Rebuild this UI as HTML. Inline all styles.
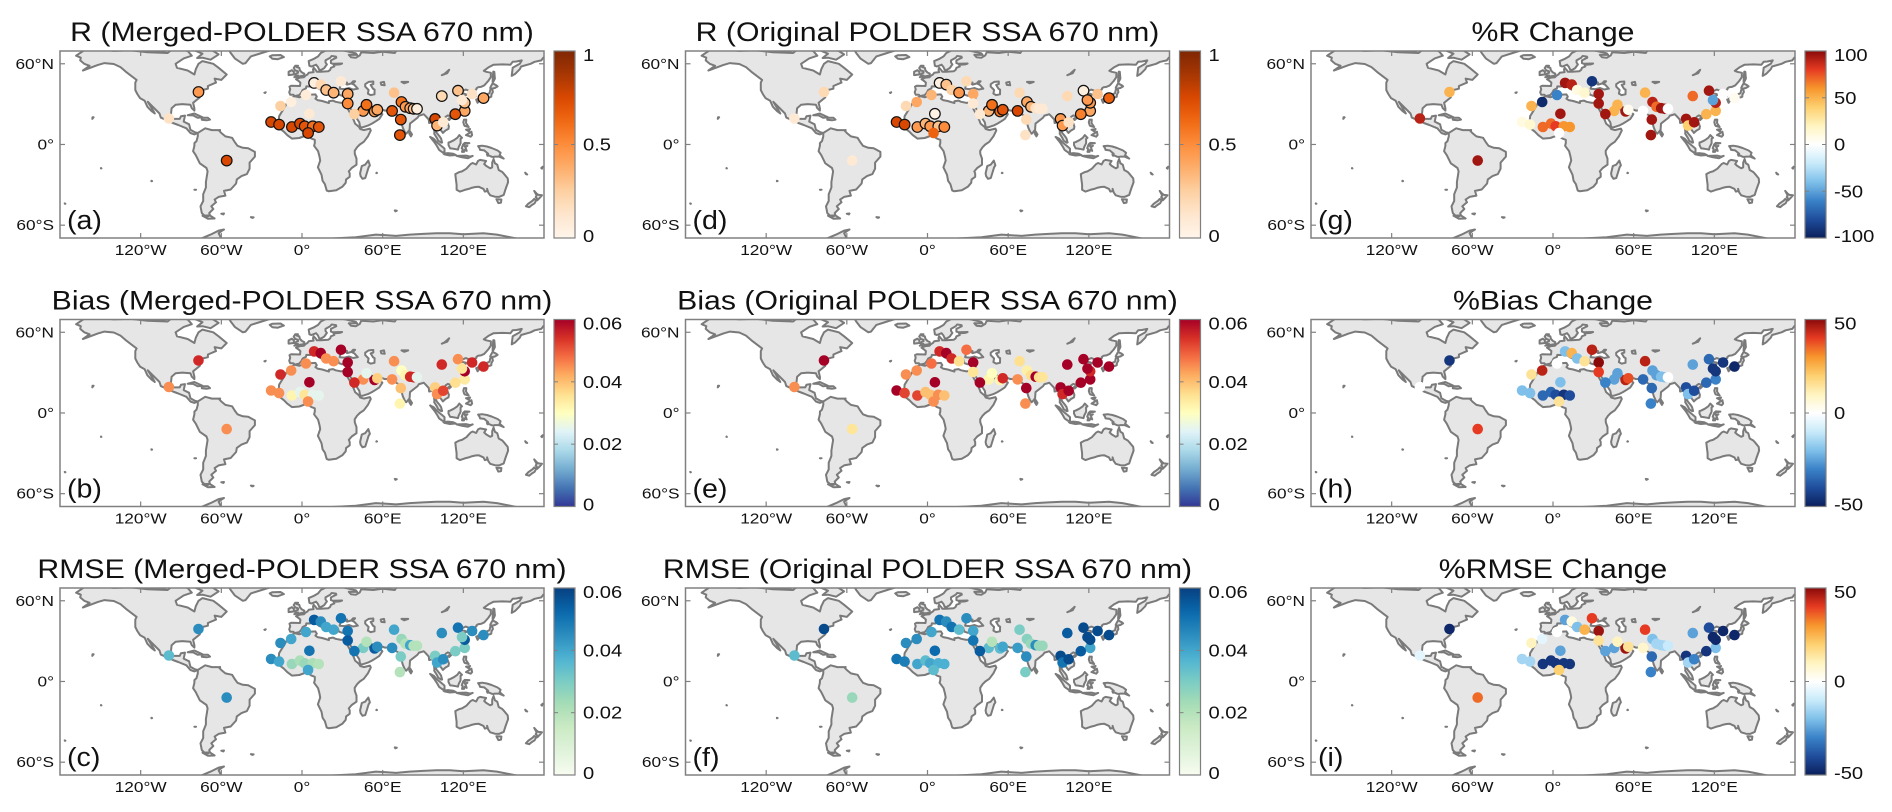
<!DOCTYPE html>
<html><head><meta charset="utf-8"><style>
html,body{margin:0;padding:0;background:#fff;}
svg{display:block;font-family:"Liberation Sans",Arial,sans-serif;}
</style></head><body>
<svg id="fig" width="1892" height="812" viewBox="0 0 1892 812" xmlns="http://www.w3.org/2000/svg">
<rect width="1892" height="812" fill="#fff"/>
<defs id="defs"></defs>
</svg>
<script>
// ---------- data ----------
const stationLon=[-77,-99,-56, 9,14,29,18,23.5,34,34, 3,-8,-16,5.5, -23,-17,-7.5,-1.5,2,8,12.5,4.5, 45.5,48,54,56,39, 67,68.5,74,77,80.5,83,73.5,72.8,85.5, 99,100.5,105,104,116,126.5,121,121,114,135,119];
const stationLat=[39,19.3,-12, 45.8,44.5,47,40.5,38.5,37.5,30.5, 36.8,31.6,28.6,22.8, 16.7,14.8,13,15.5,13.5,13.5,13,8.5, 25,29.5,24.5,25.8,22.6, 25,38.5,31.6,28,27,26.5,18.5,7,26.5, 19,14,16.5,36,40,37.5,25,31,22.5,34.5,33];
const valsA=[0.45,0.15,0.75, 0.05,0.2,0.1,0.3,0.35,0.4,0.5, 0.08,0.05,0.25,0.1, 0.75,0.75,0.75,0.75,0.7,0.6,0.7,0.75, 0.45,0.6,0.45,0.4,0.25, 0.7,0.3,0.6,0.45,0.4,0.3,0.7,0.7,0.05, 0.75,0.35,0.1,0.2,0.3,0.15,0.4,0.3,0.7,0.4,0.1];
const sigA=[1,0,1, 1,0,0,1,1,1,1, 0,0,0,0, 1,1,1,1,1,1,1,1, 1,1,1,1,0, 1,0,1,1,1,1,1,1,1, 1,1,0,1,1,0,1,1,1,1,0];
const valsD=[0.2,0.1,0.1, 0.05,0.3,0.2,0.25,0.45,0.4,0.1, 0.35,0.4,0.2,0.02, 0.75,0.75,0.45,0.35,0.45,0.3,0.5,0.65, 0.35,0.6,0.6,0.7,0.1, 0.75,0.2,0.4,0.35,0.15,0.1,0.2,0.15,0.1, 0.45,0.45,0.15,0.2,0.05,0.3,0.4,0.45,0.55,0.65,0.45];
const sigD=[0,0,0, 1,1,0,0,1,0,0, 0,0,0,1, 1,1,1,1,1,1,1,0, 1,1,1,1,0, 1,0,1,1,0,0,0,0,0, 1,1,0,0,1,0,1,1,1,1,1];
const valsG=[50,90,95, 95,90,-90,10,15,95,95, -60,-95,50,95, 10,15,70,70,80,60,60,0, 50,50,95,5,95, 0,50,90,70,95,95,95,95,0, 95,40,95,70,95,0,50,90,50,5,-50];
const valsB=[0.055,0.045,0.045, 0.055,0.06,0.06,0.045,0.045,0.06,0.06, 0.045,0.045,0.055,0.06, 0.045,0.045,0.032,0.025,0.035,0.025,0.025,0.045, 0.045,0.025,0.06,0.038,0.055, 0.045,0.045,0.03,0.032,0.055,0.055,0.04,0.032,0.025, 0.038,0.045,0.052,0.055,0.045,0.055,0.034,0.06,0.036,0.055,0.035];
const valsE=[0.06,0.045,0.035, 0.055,0.06,0.048,0.055,0.036,0.06,0.035, 0.048,0.045,0.045,0.06, 0.06,0.052,0.052,0.04,0.04,0.045,0.04,0.045, 0.032,0.03,0.032,0.055,0.06, 0.045,0.036,0.033,0.036,0.06,0.036,0.06,0.045,0.035, 0.06,0.055,0.06,0.06,0.06,0.06,0.06,0.055,0.06,0.06,0.06];
const valsH=[-45,0,40, -20,25,45,-20,15,50,40, 0,45,15,-20, -20,-20,-35,-35,-40,-45,-40,15, -25,-25,45,38,-30, -35,45,-25,-25,-20,-20,-35,-30,0, -40,-20,-40,-25,-35,-45,-30,-45,-35,-48,-45];
const valsC=[0.045,0.035,0.045, 0.055,0.045,0.05,0.04,0.04,0.05,0.055, 0.04,0.04,0.045,0.05, 0.045,0.04,0.025,0.022,0.025,0.022,0.02,0.04, 0.03,0.02,0.055,0.045,0.05, 0.045,0.04,0.025,0.02,0.04,0.02,0.03,0.02,0.02, 0.03,0.04,0.045,0.045,0.05,0.045,0.03,0.055,0.03,0.045,0.03];
const valsF=[0.058,0.035,0.025, 0.05,0.045,0.045,0.05,0.035,0.04,0.05, 0.04,0.045,0.045,0.052, 0.05,0.048,0.04,0.035,0.04,0.038,0.038,0.035, 0.035,0.02,0.035,0.04,0.055, 0.042,0.03,0.028,0.025,0.045,0.025,0.045,0.03,0.025, 0.058,0.05,0.058,0.055,0.058,0.058,0.04,0.058,0.055,0.058,0.058];
const valsI=[-48,-5,35, -25,5,40,-20,25,48,15, 0,-5,10,-25, -15,-15,-45,-45,-45,-45,-45,20, -25,10,48,15,-25, 8,40,-20,-15,-15,-15,-35,-30,-10, -45,-15,-30,-25,-40,-48,-20,-48,-45,-48,-48];
const panelTitles=["R (Merged-POLDER SSA 670 nm)","Bias (Merged-POLDER SSA 670 nm)","RMSE (Merged-POLDER SSA 670 nm)","R (Original POLDER SSA 670 nm)","Bias (Original POLDER SSA 670 nm)","RMSE (Original POLDER SSA 670 nm)","%R Change","%Bias Change","%RMSE Change"];
const lonTicks=[-120,-60,0,60,120];
const lonTickLabels=["120°W","60°W","0°","60°E","120°E"];
const latTicks=[60,0,-60];
const latTickLabels=["60°N","0°","60°S"];
const ticksR=[0,0.5,1], ticksBias=[0,0.02,0.04,0.06], ticksPctR=[-100,-50,0,50,100], ticksPct=[-50,0,50];

// ---------- colormaps ----------
const cmOr=["#fff5eb","#fee6ce","#fdd0a2","#fdae6b","#fd8d3c","#f16913","#d94801","#a63603","#7f2704"];
const cmRdYlBu=["#313695","#4575b4","#74add1","#abd9e9","#e0f3f8","#ffffbf","#fee090","#fdae61","#f46d43","#d73027","#a50026"];
const cmGnBu=["#f7fcf0","#e0f3db","#ccebc5","#a8ddb5","#7bccc4","#4eb3d3","#2b8cbe","#0868ac","#084081"];
const cmDiv=["#0b1f5c","#1f4d9c","#3a82c8","#7fc0ea","#c8eafa","#ffffff","#fff4c0","#fdd070","#f7962c","#e63b22","#8a0a0a"];
function hex(h){return [parseInt(h.substr(1,2),16),parseInt(h.substr(3,2),16),parseInt(h.substr(5,2),16)];}
function cmap(stops,t){t=Math.max(0,Math.min(1,t));const n=stops.length-1;const k=Math.min(n-1,Math.floor(t*n));const f=t*n-k;const a=hex(stops[k]),b=hex(stops[k+1]);return "rgb("+a.map((v,i)=>Math.round(v+(b[i]-v)*f)).join(",")+")";}

const panelVals=[valsA,valsB,valsC,valsD,valsE,valsF,valsG,valsH,valsI];
const panelSig=[sigA,null,null,sigD,null,null,null,null,null];
const panelCm=[cmOr,cmRdYlBu,cmGnBu,cmOr,cmRdYlBu,cmGnBu,cmDiv,cmDiv,cmDiv];
const panelRange=[[0,1],[0,0.06],[0,0.06],[0,1],[0,0.06],[0,0.06],[-100,100],[-50,50],[-50,50]];
const panelTicks=[ticksR,ticksBias,ticksBias,ticksR,ticksBias,ticksBias,ticksPctR,ticksPct,ticksPct];

// ---------- geometry ----------
const MW=484, MH=187, LAT0=69.5, SX=MW/360, SY=1.345;
function lx(lon){return (lon+180)*SX;}
function ly(lat){return (LAT0-lat)*SY;}
const land=[
[[-168,66],[-162,70],[-156,71.3],[-140,69.6],[-128,70],[-115,68.5],[-100,68],[-95,72],[-85,69.5],[-82,66],[-88,64],[-94,60],[-93,57],[-85,55],[-80,52],[-79,56],[-77,60],[-74,62],[-66,60],[-62,57],[-56,52],[-60,48],[-65,49],[-64,46],[-70,43.5],[-70,41.5],[-74,40.5],[-76,37],[-76,35],[-81,31],[-80,27],[-80,25.2],[-82,27],[-83,29.5],[-89,30],[-94,29.5],[-97,27],[-97.5,22],[-96,19],[-91,19],[-90,21],[-87,21.5],[-88,17],[-84,15],[-83,11],[-79.5,9],[-77.5,8.5],[-80,7.5],[-83,8.5],[-86,12],[-92,14.5],[-96,16],[-105,20],[-106,23],[-109,26],[-112.5,29.5],[-114.7,31.7],[-113,29],[-110,24],[-109.5,23],[-112,25],[-115,28],[-117,32.5],[-120.5,34.5],[-122.5,37.5],[-124,40.5],[-124,46],[-123,48],[-127,51],[-131,54],[-135,57.5],[-140,59.8],[-147,60.5],[-152,59],[-156,57.5],[-163,55],[-158,58.5],[-162,60],[-165,62.5],[-164.5,64.5],[-168,66]],
[[-62,67],[-68,63],[-74,64.5],[-78,64.3],[-74,67.5],[-80,70],[-90,71],[-80,74],[-70,72],[-62,67]],
[[-120,71],[-105,68.5],[-100,70],[-110,74],[-120,71]],
[[-73,78],[-60,76],[-56,73],[-53,68],[-50,64],[-44,60],[-42,60.5],[-38,65.5],[-30,68],[-22,70.5],[-20,76],[-30,83],[-60,82],[-73,78]],
[[-24,65.5],[-22,66.4],[-16,66.5],[-13.5,65],[-18,63.4],[-22,63.8],[-24,65.5]],
[[-85,21.8],[-80,23],[-74,20.2],[-77.5,19.8],[-81,21.6],[-85,21.8]],
[[-74.5,19.8],[-70,19.8],[-68.4,18.5],[-71,18],[-74.5,18.4]],
[[-77.5,8.5],[-76,9.5],[-72,12],[-67,10.7],[-62,10.7],[-60,8.5],[-57,6],[-52,5],[-50,1.8],[-48,-1],[-44,-2.5],[-40,-2.8],[-35,-5.5],[-35,-9],[-39,-13.5],[-39,-18],[-41,-22],[-45,-23.5],[-48.5,-26],[-49,-29],[-53,-33.5],[-58,-34.5],[-57,-38],[-62,-39],[-65,-41],[-64,-43],[-67.5,-46],[-66,-48],[-69,-51],[-68.5,-52.5],[-70,-53.5],[-72,-53.5],[-74.5,-51],[-75.5,-46],[-73.5,-42],[-73.5,-37],[-71.5,-32],[-71.5,-28],[-70.2,-20],[-71,-17.5],[-76,-14],[-79,-8],[-81,-5],[-80,-1],[-80,1],[-78.5,2.5],[-77.5,6],[-77.5,8.5]],
[[-68.5,-52.7],[-65,-55],[-70,-55.2],[-74,-53],[-68.5,-52.7]],
[[-5.5,36],[-10,33],[-13,27.5],[-17,21],[-17.5,14.7],[-16.7,12],[-13.5,9.5],[-11,7],[-7.5,4.4],[-2,4.8],[2,6.3],[5,5.8],[7,4.4],[9.5,3.5],[9.5,1],[9,-1],[12,-5],[13,-9],[13.5,-12],[11.8,-17],[14.5,-22.5],[15.3,-27],[17,-29.5],[18.4,-34.2],[20,-34.8],[25.5,-34],[30,-31.5],[32.5,-28.5],[32.8,-26],[35.5,-24],[35.5,-21.5],[34.8,-20],[37,-17.5],[40.5,-15],[40.5,-10.5],[39.3,-7],[39.2,-4.7],[41,-2],[43,0],[46,2],[49,6],[51.2,10.5],[50.5,11.8],[46,10.7],[43.3,11.5],[42.5,13],[39.5,15.5],[38.5,18],[37.2,21],[35.5,24],[33.7,27.2],[32.5,29.9],[34.3,27.8],[35,28.5],[36.5,26],[39,22],[41,19],[42.6,16.5],[43.3,12.7],[45,12.8],[49,14],[52,15.5],[55,17.3],[57.5,19],[59.8,22.5],[58.5,23.7],[56.3,26.2],[54,24.1],[51.5,24.4],[51.6,26],[50.8,25],[50,26.5],[48.6,28],[48,29.9],[50,30.1],[51.5,27.9],[54.5,26.6],[57,27],[61.6,25.2],[66.6,25.4],[67.5,24],[68.5,23],[70,22.5],[72.5,21],[73,19],[74,16],[75,12.5],[76.3,9.5],[77.5,8],[78.5,9],[80,11],[80.3,15.5],[82.3,17],[86,20],[87,21.5],[89,22],[90.5,22.5],[92,21],[94.3,18.5],[94.5,16],[97.5,16.5],[98,13],[98.5,9],[98.3,8],[100.3,5],[101.3,2.8],[103.5,1.3],[104.2,1.5],[103.4,4.5],[102.2,6.2],[100.3,8.5],[99.3,10.5],[100,13.5],[100.9,13.5],[103,11],[104.8,8.6],[106.7,10.4],[109,11.6],[109.3,13.5],[108.5,15.5],[106.5,17.5],[105.8,19],[106.8,20.5],[108.5,21.6],[110,21],[111.5,21.5],[114,22.3],[116.5,23],[119.5,26],[121,28],[122,30],[121,32],[120.5,34],[119.2,35],[122.5,37],[121,37.7],[118,38.2],[117.7,39],[119.5,39.8],[121.8,40.8],[124.3,39.9],[125.5,37.7],[126.6,35],[128.5,35.1],[129.5,36],[129.4,37.5],[128.4,38.6],[127.5,39.8],[129.7,40.9],[129.7,41.7],[131,42.6],[133,42.8],[135.5,43.9],[138.5,47.2],[140.4,50],[140.5,53.3],[137,54],[135.2,54.8],[139,57.5],[142.5,59.3],[149,59.5],[155,59.3],[156.7,61.5],[159.5,61.7],[163.5,62.5],[162,60],[156.7,57],[156,51],[158.5,52.5],[162,56],[163,58],[170,60],[173,61.5],[178,62.5],[179.5,64.5],[181,65.5],[181,72],[160,71],[150,72],[140,72.5],[130,71],[113,74],[105,77],[90,75.5],[80,73.5],[72,72.5],[69,68],[60,69],[53,68],[44,68.5],[43,66.2],[40,64.5],[36.5,64.8],[34.8,66.7],[41,66.6],[40,67.8],[33,69.4],[25,71],[18,70],[14,68],[12,65.5],[8.5,63.5],[5,62],[5.5,58.5],[7,58],[10.5,59.3],[11.8,57.7],[12.8,55.5],[14.2,55.4],[16.5,56.8],[18.5,59.5],[17.5,61],[17.5,62.5],[21,64.5],[22,65.8],[25.3,65.3],[25.5,64.5],[21.5,62.5],[21.5,60.5],[23,60],[29.8,60.2],[28,59.5],[23.5,59.2],[24,58],[21.5,57],[21,55.5],[19.5,54.4],[14,54],[11,54],[10.5,55],[8.6,57.1],[8.2,55.5],[8.6,53.8],[5,53.3],[4,52],[2.5,51.1],[1.5,50],[-1.5,49.7],[-4.5,48.5],[-2.5,47.2],[-1.2,46],[-1.5,43.5],[-8,43.7],[-9.3,43],[-8.8,41],[-9.5,38.8],[-8.8,37],[-6.5,37],[-5.5,36]],
[[-5.7,50],[1.5,51.2],[1.7,52.7],[0,53.5],[-1.5,55],[-2,57],[-4,57.6],[-3,58.6],[-5,58.6],[-6.2,56.8],[-5,55],[-3,54.4],[-3,53.3],[-4.5,52.8],[-5,51.6],[-3,51.3],[-5.7,50]],
[[-6,52],[-6,54],[-7.5,55.2],[-10,54],[-10,51.6],[-6,52]],
[[130.9,34],[132.5,35.5],[136,35.8],[137,37],[139.5,38.2],[140,40.5],[141.5,41.4],[142,39],[140.9,37],[140.8,35.5],[139.5,35],[137,34.6],[135.2,33.8],[132.5,34.3],[130.9,34]],
[[129.6,33.3],[131,33.9],[131.9,32.8],[130.6,31],[129.6,33.3]],
[[140,42],[140.5,43.2],[141.8,45.4],[144.5,44],[145.5,43.2],[143.5,42],[141,41.5],[140,42]],
[[142,46],[143.5,49],[143,54],[142.3,54.2],[142,51],[141.8,46.5],[142,46]],
[[120.2,22.6],[121,25.2],[121.9,25],[120.9,22],[120.2,22.6]],
[[108.7,19],[110.5,20.1],[111,19.6],[109.5,18.2],[108.7,19]],
[[79.8,8],[80.3,9.8],[81.8,7.5],[81,6],[79.8,8]],
[[120,16.5],[120.5,18.5],[122.2,18.5],[122,16],[124,13],[121,13.8],[120.6,14.5],[120,16.5]],
[[122,7],[126,9.5],[126.5,7],[125.5,5.8],[122,7]],
[[122,11],[125,11.5],[124,9.8],[122,11]],
[[95.3,5.6],[98,4.2],[100.5,1.5],[104.5,-1.8],[106,-3.1],[106,-5.9],[104.5,-5.8],[102,-4],[100.3,-1],[98.5,1.7],[95.3,5.6]],
[[105.2,-6.8],[108.5,-6.4],[112.5,-6.9],[114.5,-7.8],[110,-8.2],[106,-7.4],[105.2,-6.8]],
[[109,1.5],[110,1.7],[113,3.2],[115.5,5],[117,7],[119,5],[118,4.2],[118,1],[117.5,0],[116.5,-2],[116,-3.8],[114.5,-3.5],[111.5,-3],[110.2,-2.9],[109,-0.5],[109,1.5]],
[[119,-5.5],[119.5,-3.5],[118.8,-2.8],[119.8,0],[121,1.2],[124.5,1],[122,0.5],[120.5,0.3],[121,-1.5],[123,-1],[121.5,-2],[122.5,-4.8],[121,-4],[120.5,-5.5],[119,-5.5]],
[[131,-1.2],[134,-0.9],[137.5,-1.5],[141,-2.6],[145.5,-4.5],[147.7,-6.2],[147,-8],[150,-10.5],[146.5,-9],[143.5,-9],[142.5,-9.3],[141,-9.1],[139,-8.2],[138,-8.4],[137.5,-7.3],[138.5,-6.9],[135.5,-4.4],[132.5,-4],[132,-2.8],[131,-1.2]],
[[115,-8.5],[122,-8.3],[125,-9],[127,-8.5],[123.5,-10.2],[119,-9.5],[115,-8.5]],
[[114,-22],[114.5,-26],[115,-30],[115,-33.7],[117.5,-35],[121,-33.8],[124,-33],[126,-32.3],[129,-31.6],[131.5,-31.5],[135,-33],[136,-35],[138,-34.5],[137.7,-33],[138.5,-35.6],[140,-37.8],[143.5,-38.8],[146.5,-39],[150,-37.5],[151.2,-33.8],[153.3,-28],[153,-25.2],[150.8,-22.5],[149,-20.5],[146.3,-19],[145.3,-15],[143.5,-14],[142.5,-10.8],[141.5,-13.5],[141.5,-17],[140,-17.7],[137,-15.9],[135.5,-14.5],[136.9,-12.3],[132.5,-11.5],[131,-12.2],[129.5,-14.9],[127,-13.8],[125.5,-14.5],[123.6,-16.5],[122.3,-18],[119,-20],[116.7,-20.6],[114,-22]],
[[144.6,-40.7],[148.3,-40.9],[148,-43.2],[146,-43.6],[144.6,-40.7]],
[[172.7,-34.5],[174.5,-36.5],[175.9,-37.5],[178.5,-37.7],[177,-39.5],[175,-41.5],[174.6,-39.8],[173.8,-39.2],[174.5,-37.8],[172.7,-34.5]],
[[172.7,-40.5],[174.2,-41.5],[173,-43.7],[171,-45],[169,-46.6],[166.5,-46],[168.3,-44],[171.5,-41.8],[172.7,-40.5]],
[[49.3,-12],[50.5,-15.5],[49.5,-17],[47.1,-24.9],[45,-25.5],[43.6,-23.5],[43.2,-21.5],[44.5,-16],[47,-15],[49.3,-12]],
[[-181,-90],[-181,-78],[-160,-77],[-150,-76],[-140,-74.5],[-120,-74],[-100,-73],[-80,-73],[-75,-70],[-68,-67],[-62,-64],[-58,-63.2],[-60,-64.5],[-62,-66],[-60,-70],[-40,-78],[-20,-73],[0,-70.5],[20,-70],[40,-69],[55,-67],[70,-68],[80,-67],[90,-66.5],[100,-66],[110,-66],[120,-66.8],[135,-66],[145,-67],[160,-70],[170,-71.5],[181,-78],[181,-90]],
[[-156,19],[-155,20.2],[-155.8,20.3],[-156,19]],[[-28,38.5],[-27,38.8],[-27.5,38.3],[-28,38.5]],[[8.5,39],[9.7,39.2],[9.5,41],[8.3,40.8],[8.5,39]],[[12.5,38],[15.6,38.2],[15,36.7],[12.5,38]],[[32.3,35],[34.5,35.6],[33.5,34.6],[32.3,35]],[[24,35.2],[26.2,35.2],[25,35],[24,35.2]],[[-61,10.2],[-60.9,10.8],[-61.8,10.6],[-61,10.2]],[[55.5,-21],[55.8,-21.2],[55.3,-21.3],[55.5,-21]],[[-80,-33.6],[-78.8,-33.6],[-79.5,-33.8],[-80,-33.6]],[[-60,-51.5],[-58,-51.3],[-58.5,-52],[-60,-51.5]],[[-38,-54],[-36,-54.2],[-37,-54.6],[-38,-54]],[[69,-49],[70.5,-49.2],[69.5,-49.7],[69,-49]],[[166,-21],[167.5,-22.3],[166.5,-22],[166,-21]],[[178,-17.5],[179,-16.5],[178.5,-18],[178,-17.5]],[[-149.5,-17.5],[-149.2,-17.8],[-149.6,-17.8],[-149.5,-17.5]],[[-176,-44],[-176.5,-43.8],[-176.3,-44.2],[-176,-44]],[[-112,-27],[-111.5,-27.2],[-112,-27.3],[-112,-27]]
];
const lakes=[
[[-5.5,36],[-2,35.1],[3,36.8],[10,37.2],[11,35.5],[10,34],[11.5,33],[15,32.3],[20,30.8],[20,32.2],[23,32.6],[25,31.7],[29,30.9],[32,31.3],[34.5,31.5],[35.5,33.5],[36,35.5],[36,36.7],[32,36.2],[30,36.2],[27.5,37],[26.5,40],[23,40.5],[24,38],[22.5,36.5],[21,38],[19.5,40.5],[19.3,42],[15.5,44.5],[13.7,45.6],[12.3,45.2],[12.5,44],[14,42],[16,41.5],[18.5,40.2],[16.5,38.5],[15.7,40],[12.5,41.5],[10.5,43],[8.5,44.4],[6,43.1],[3.2,43.2],[3,41.8],[0.5,40.5],[-0.5,38.5],[-2.1,36.7],[-5.5,36]],
[[28,41.5],[28.5,43.5],[29.8,45.5],[31,46.6],[33.5,46],[32.5,45.3],[33.5,44.5],[36.5,45.3],[38,47],[39.5,47],[37.5,45],[39,44.3],[41.5,41.5],[38,40.9],[35,42],[31.5,41.2],[28,41.5]],
[[47,44.8],[49.5,46.5],[53,46.8],[53,45],[51,44.3],[52.8,41.5],[54,40.8],[53.9,37.3],[51,36.7],[49,37.8],[49.5,40.5],[47,43],[47,44.8]],
[[58.5,46],[61,46.5],[61.5,44],[59,44.3],[58.5,46]],
[[104,51.5],[106,52.5],[109.5,55.5],[108,53],[104,51.5]],
[[74,46.5],[79,46.5],[76,45.5],[74,46.5]]
];
function ringPath(r){return "M"+r.map(p=>lx(p[0]).toFixed(1)+","+ly(p[1]).toFixed(1)).join("L")+"Z";}
const landD=land.map(ringPath).join("");
const lakeD=lakes.map(ringPath).join("");

const NS="http://www.w3.org/2000/svg";
const svg=document.getElementById("fig");
const defs=document.getElementById("defs");
function mk(tag,attrs,parent){const e=document.createElementNS(NS,tag);for(const k in attrs)e.setAttribute(k,attrs[k]);(parent||svg).appendChild(e);return e;}
function txt(x,y,s,size,anchor,parent,stretch){const t=mk("text",{transform:"translate("+x+","+y+") scale("+(stretch||1.15)+",1)","font-size":size,"text-anchor":anchor,fill:"#111"},parent);t.textContent=s;return t;}

const COLX=[60,685.5,1311], ROWY=[51,319.5,588];
for(let col=0;col<3;col++){for(let row=0;row<3;row++){
  const p=col*3+row, X0=COLX[col], Y0=ROWY[row], letter="abcdefghi"[p];
  const g=mk("g",{});
  
  
  const tt=txt(X0+MW/2,Y0-10,panelTitles[p],27,"middle",g,1.12);
  
  
  const cp=mk("clipPath",{id:"clip"+p},defs);
  mk("rect",{x:0,y:0,width:MW,height:MH},cp);
  const mg=mk("g",{transform:"translate("+X0+","+Y0+")"},g);
  
  
  const inner=mk("g",{"clip-path":"url(#clip"+p+")"},mg);
  const lp=mk("path",{d:landD,fill:"#e6e6e6",stroke:"#7a7a7a","stroke-width":2,"stroke-linejoin":"round"},inner);
  
  
  const wp=mk("path",{d:lakeD,fill:"#ffffff",stroke:"#7a7a7a","stroke-width":2,"stroke-linejoin":"round"},inner);
  
  
  const vals=panelVals[p], sig=panelSig[p], cm=panelCm[p], rg=panelRange[p];
  for(let i=0;i<stationLon.length;i++){
    const t=(vals[i]-rg[0])/(rg[1]-rg[0]);
    const outl=sig&&sig[i];
    const c=mk("circle",{cx:lx(stationLon[i]).toFixed(1),cy:ly(stationLat[i]).toFixed(1),r:5.3,fill:cmap(cm,t),stroke:outl?"#111":"none","stroke-width":outl?1.2:0},inner);
    
    
  }
  const fr=mk("rect",{x:0,y:0,width:MW,height:MH,fill:"none",stroke:"#808080","stroke-width":1.5},mg);
  
  
  lonTicks.forEach((lon,k)=>{
    const x=lx(lon);
    mk("line",{x1:x,y1:MH,x2:x,y2:MH-5,stroke:"#808080","stroke-width":1.2},mg);
    mk("line",{x1:x,y1:0,x2:x,y2:5,stroke:"#808080","stroke-width":1.2},mg);
    const l=txt(x,MH+17,lonTickLabels[k],15,"middle",mg);
    
    
  });
  latTicks.forEach((lat,k)=>{
    const y=ly(lat);
    mk("line",{x1:0,y1:y,x2:5,y2:y,stroke:"#808080","stroke-width":1.2},mg);
    mk("line",{x1:MW,y1:y,x2:MW-5,y2:y,stroke:"#808080","stroke-width":1.2},mg);
    const l=txt(-6,y+5,latTickLabels[k],15,"end",mg);
    
    
  });
  const pl=txt(7,MH-9,"("+letter+")",26,"start",mg,1.1);
  
  
  const gid="grad"+p;
  const lg=mk("linearGradient",{id:gid,x1:0,y1:1,x2:0,y2:0},defs);
  for(let s=0;s<=20;s++){mk("stop",{offset:(s/20),"stop-color":cmap(cm,s/20)},lg);}
  const cbx=X0+MW+10;
  const cb=mk("rect",{x:cbx,y:Y0,width:21,height:MH,fill:"url(#"+gid+")",stroke:"#808080","stroke-width":1.2},g);
  
  
  const tk=panelTicks[p];
  tk.forEach((v,k)=>{
    let y=Y0+MH-(v-rg[0])/(rg[1]-rg[0])*MH;
    mk("line",{x1:cbx+21,y1:y,x2:cbx+17,y2:y,stroke:"#808080","stroke-width":1},g);
    mk("line",{x1:cbx,y1:y,x2:cbx+4,y2:y,stroke:"#808080","stroke-width":1},g);
    let ty=y+6; if(k===tk.length-1) ty=y+10; if(k===0) ty=y+4;
    const l=txt(cbx+29,ty,String(v),18,"start",g,1.12);
    
    
  });
}}
</script>
</body></html>
